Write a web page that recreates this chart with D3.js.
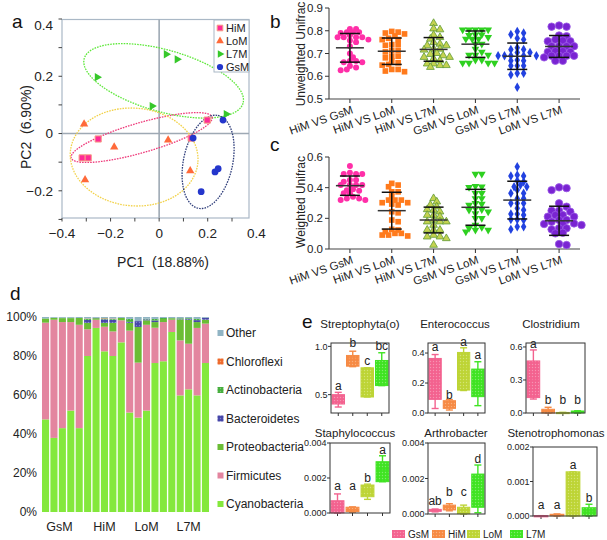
<!DOCTYPE html>
<html><head><meta charset="utf-8">
<script src="https://cdn.jsdelivr.net/npm/d3@7"></script>
<style>body{margin:0;background:#fff}svg{display:block;font-family:"Liberation Sans",Arial,Helvetica,sans-serif}</style>
</head><body>
<svg id="chart" width="607" height="540"></svg>
<script>
// ---------------- DATA ----------------
// Panel a: PCoA
const pcaGroups = ["HiM","LoM","L7M","GsM"];
const himPC1 = [-0.251,-0.317,-0.292,0.132,0.198];
const himPC2 = [-0.019,-0.085,-0.085,-0.016,0.047];
const lomPC1 = [-0.309,-0.185,0.037,-0.305,0.128];
const lomPC2 = [0.033,-0.047,-0.023,-0.162,-0.130];
const l7mPC1 = [-0.255,0.029,0.074,-0.029,0.276];
const l7mPC2 = [0.197,0.277,0.259,0.096,0.068];
const gsmPC1 = [0.140,0.263,0.230,0.243,0.173];
const gsmPC2 = [-0.016,0.047,-0.134,-0.123,-0.203];
// ellipses: centre, two conjugate half-axes (data units)
const ellL7M = [0.0185,0.184, 0.327,-0.078, -0.0346,-0.104];
const ellHiM = [-0.072,-0.014, 0.290,0.0713, 0.0173,-0.050];
const ellLoM = [-0.103,-0.082, 0.2625,-0.0195, -0.0177,-0.170];
const ellGsM = [0.2016,-0.099, 0.041,0.162, 0.099,-0.018];
const pcaXTicks = [-0.4,-0.2,0,0.2,0.4];
const pcaYTicks = [-0.2,0,0.2,0.4];

// Panels b, c: pairwise distances
const pairs = ["HiM VS GsM","HiM VS LoM","HiM VS L7M","GsM VS LoM","GsM VS L7M","LoM VS L7M"];
const bHiGs=[0.808,0.808,0.79,0.794,0.794,0.794,0.771,0.771,0.771,0.771,0.757,0.761,0.732,0.684,0.667,0.662,0.667,0.662,0.645,0.638,0.63,0.626,0.70,0.75,0.78];
const bHiLo=[0.797,0.794,0.79,0.786,0.777,0.767,0.761,0.761,0.739,0.736,0.739,0.713,0.713,0.707,0.688,0.681,0.688,0.667,0.659,0.652,0.649,0.630,0.623,0.620,0.630];
const bHiL7=[0.833,0.809,0.805,0.781,0.771,0.764,0.749,0.742,0.735,0.735,0.72,0.716,0.72,0.701,0.697,0.691,0.684,0.677,0.669,0.684,0.655,0.648,0.648,0.64,0.655];
const bGsLo=[0.804,0.804,0.804,0.804,0.804,0.783,0.783,0.780,0.764,0.764,0.764,0.771,0.742,0.742,0.72,0.707,0.693,0.693,0.693,0.658,0.658,0.658,0.658,0.671,0.671];
const bGsL7=[0.797,0.79,0.783,0.767,0.761,0.725,0.718,0.718,0.704,0.704,0.69,0.69,0.69,0.69,0.69,0.671,0.668,0.668,0.646,0.646,0.646,0.613,0.607,0.613,0.552];
const bLoL7=[0.823,0.818,0.818,0.779,0.776,0.754,0.757,0.754,0.761,0.732,0.732,0.732,0.732,0.710,0.707,0.710,0.707,0.690,0.690,0.690,0.690,0.668,0.668,0.683];
const bMean=[0.725,0.71,0.718,0.741,0.688,0.731];
const bSD=[0.063,0.058,0.052,0.058,0.058,0.048];
const bTicks=[0.5,0.6,0.7,0.8,0.9];
const cHiGs=[0.541,0.497,0.489,0.489,0.489,0.45,0.45,0.439,0.417,0.417,0.417,0.417,0.389,0.380,0.384,0.363,0.363,0.330,0.319,0.330,0.319,0.341];
const cHiLo=[0.428,0.417,0.406,0.373,0.373,0.341,0.319,0.319,0.319,0.302,0.302,0.287,0.293,0.243,0.236,0.189,0.178,0.124,0.113,0.091,0.085,0.091,0.102,0.102,0.128];
const cHiL7=[0.308,0.287,0.330,0.276,0.254,0.243,0.258,0.221,0.211,0.221,0.189,0.178,0.178,0.178,0.124,0.124,0.124,0.080,0.091,0.080,0.026,0.069,0.156];
const cGsLo=[0.489,0.489,0.410,0.402,0.406,0.363,0.363,0.330,0.330,0.298,0.293,0.287,0.265,0.258,0.254,0.232,0.243,0.200,0.200,0.156,0.124,0.113,0.124,0.141,0.135];
const cGsL7=[0.536,0.482,0.476,0.476,0.445,0.439,0.417,0.406,0.406,0.384,0.363,0.363,0.330,0.330,0.298,0.298,0.298,0.265,0.254,0.228,0.228,0.221,0.193,0.189,0.193,0.145,0.128,0.145];
const cLoL7=[0.402,0.384,0.397,0.250,0.250,0.243,0.221,0.211,0.211,0.221,0.189,0.189,0.178,0.167,0.163,0.156,0.163,0.135,0.128,0.135,0.106,0.102,0.026,0.032,0.276,0.298];
const cMean=[0.413,0.25,0.189,0.272,0.319,0.184];
const cSD=[0.063,0.12,0.084,0.117,0.123,0.095];
const cTicks=[0.0,0.2,0.4,0.6];

// Panel d: relative abundance (%) of 20 samples
const dGroups=["GsM","HiM","LoM","L7M"];
const cyano =[47.5,38,43,52,43,80,94.4,82.4,80,87,51,48.4,52,76.4,77.3,92.3,59.8,62.9,59.8,76.4];
const firmi =[49.6,60.6,54.4,45.4,53,13.7,4.2,12.6,12.6,11.3,42,28.2,44,18.1,20.1,6.3,28.2,23.4,34.6,20.2];
const proteo=[2.0,1.0,2.0,2.0,3.5,3.3,0.8,2.0,4.4,1.2,4.0,18.3,2.3,2.9,1.6,0.8,10.8,12.3,3.0,2.0];
const bacter=[0,0,0,0,0,1.5,0.2,1.8,1.6,0,0.5,3.0,0.5,0.8,0,0,0.3,0.4,1.0,1.0];
const actino=[0.2,0,0.2,0.2,0,0.5,0,0.4,0.4,0,1.5,0,0.3,0.8,0.5,0,0.3,0.4,0.6,0];
const chloro=[0,0,0,0,0,0.2,0,0.2,0.2,0,0,0,0,0,0,0,0,0,0,0];
const other =[0.7,0.4,0.4,0.4,0.5,0.8,0.4,0.6,0.8,0.5,1.0,2.1,0.9,1.0,0.5,0.6,0.6,0.6,1.0,0.4];
const phyla=["Cyanobacteria","Firmicutes","Proteobacteria","Bacteroidetes","Actinobacteria","Chloroflexi","Other"];
const dTicks=[0,20,40,60,80,100];

// Panel e: box plots [min,q1,median,q3,max] for GsM,HiM,LoM,L7M
const eGroups=["GsM","HiM","LoM","L7M"];
const eTitles=["Streptophyta(o)","Enterococcus","Clostridium","Staphylococcus","Arthrobacter","Stenotrophomonas"];
const strepto=[[0.372,0.403,0.45,0.50,0.524],[0.79,0.795,0.87,0.906,0.95],[0.476,0.476,0.60,0.778,0.778],[0.594,0.594,0.70,0.854,0.934]];
const entero =[[0.03,0.091,0.2,0.364,0.39],[0.02,0.031,0.05,0.082,0.09],[0.15,0.153,0.3,0.404,0.435],[0.049,0.109,0.2,0.293,0.342]];
const clostr =[[0.127,0.14,0.3,0.473,0.573],[0.0,0.0,0.02,0.034,0.052],[0,0,0.002,0.005,0.006],[0,0.002,0.01,0.018,0.02]];
const staph  =[[0,0.00001,0.0003,0.0007,0.00109],[0.00005,0.00008,0.0002,0.00033,0.00035],[0.00078,0.00093,0.0013,0.0016,0.00165],[0.00179,0.00179,0.0025,0.00293,0.00327]];
const arthro =[[0.00012,0.00015,0.0002,0.00026,0.00028],[0.00018,0.00023,0.0004,0.0005,0.00058],[0,0.00002,0.0002,0.00038,0.0005],[0.00007,0.00038,0.0012,0.00225,0.00276]];
const steno  =[[0,0,0.000005,0.00001,0.00001],[0,0.000005,0.00003,0.00005,0.00006],[0,0,0.0008,0.00128,0.00128],[0,0.00001,0.00012,0.00024,0.00034]];
const eLetters=[["a","b","c","bc"],["a","b","a","a"],["a","b","b","b"],["a","a","b","a"],["ab","b","c","d"],["a","a","a","b"]];
const eLetterY=[[0.552,0.99,0.81,0.958],[0.413,0.093,0.447,0.36],[0.59,0.082,0.082,0.082],[0.00131,0.00131,0.00177,0.00337],[0.00052,0.00103,0.00103,0.00287],[0.0002,0.0002,0.00136,0.00041]];
const eDomains=[[0.31,1.035],[0,0.467],[0,0.636],[0,0.004],[0,0.004],[0,0.002]];
const eTicks=[[0.5,1.0],[0,0.2,0.4],[0,0.3,0.6],[0,0.002,0.004],[0,0.002,0.004],[0,0.001,0.002]];
const eFormats=[".1f",".1f",".1f",".3f",".3f",".3f"];

// ---------------- DRAW ----------------
const svg=d3.select("#chart");
const defs=svg.append("defs");
function dotPattern(id,color,dot){
  const p=defs.append("pattern").attr("id",id).attr("width",3).attr("height",3).attr("patternUnits","userSpaceOnUse");
  p.append("rect").attr("width",3).attr("height",3).attr("fill",color);
  p.append("circle").attr("cx",1.5).attr("cy",1.5).attr("r",0.7).attr("fill",dot).attr("opacity",0.7);
}
const TXT="#222";
function panelLabel(t,x,y){svg.append("text").attr("x",x).attr("y",y).attr("font-size",19).attr("fill","#111").text(t);}

// ===== Panel a =====
{
const x=d3.scaleLinear().domain([-0.4,0.37]).range([62,249]);
const y=d3.scaleLinear().domain([-0.295,0.4]).range([218,19]);
const g=svg.append("g");
g.append("rect").attr("x",62).attr("y",19.5).attr("width",187).attr("height",198.5).attr("fill","none").attr("stroke","#aab8c6").attr("stroke-width",1.2);
g.append("line").attr("x1",x(0)).attr("x2",x(0)).attr("y1",19.5).attr("y2",218).attr("stroke","#9ea9b4").attr("stroke-width",1.6);
g.append("line").attr("x1",62).attr("x2",249).attr("y1",y(0)).attr("y2",y(0)).attr("stroke","#9ea9b4").attr("stroke-width",1.6);
d3.range(-0.3,0.41,0.1).forEach(v=>{g.append("line").attr("x1",58.5).attr("x2",62).attr("y1",y(v)).attr("y2",y(v)).attr("stroke","#444");});
d3.range(-0.4,0.31,0.1).forEach(v=>{g.append("line").attr("x1",x(v)).attr("x2",x(v)).attr("y1",218).attr("y2",221.5).attr("stroke","#444");});
pcaYTicks.forEach(v=>{g.append("text").attr("x",53).attr("y",Math.max(y(v),25)).attr("dy","0.35em").attr("text-anchor","end").attr("font-size",13.5).attr("fill",TXT).text(v===0?"0":d3.format(".1f")(v));});
pcaXTicks.forEach(v=>{g.append("text").attr("x",x(v)).attr("y",238).attr("text-anchor","middle").attr("font-size",13.5).attr("fill",TXT).text(v===0?"0":d3.format(".1f")(v));});
g.append("text").attr("x",163).attr("y",267).attr("text-anchor","middle").attr("font-size",14).attr("fill",TXT).attr("xml:space","preserve").text("PC1  (18.88%)");
g.append("text").attr("transform","translate(31,127) rotate(-90)").attr("text-anchor","middle").attr("font-size",14).attr("fill",TXT).attr("xml:space","preserve").text("PC2  (6.90%)");
const ell=[[ellL7M,"#5ee83a"],[ellHiM,"#ee3a7a"],[ellLoM,"#f2d24a"],[ellGsM,"#2e3d7a"]];
const line=d3.line().x(d=>d[0]).y(d=>d[1]).curve(d3.curveLinearClosed);
ell.forEach(([e,c])=>{
  const pts=d3.range(0,2*Math.PI,Math.PI/60).map(t=>[x(e[0]+Math.cos(t)*e[2]+Math.sin(t)*e[4]),y(e[1]+Math.cos(t)*e[3]+Math.sin(t)*e[5])]);
  g.append("path").attr("d",line(pts)).attr("fill","none").attr("stroke",c).attr("stroke-width",1.3).attr("stroke-dasharray","1.6,1.1");
});
const markers={
  HiM:{t:d3.symbolSquare,s:38,f:"#ff2a96",st:"#f6a085",r:0},
  LoM:{t:d3.symbolTriangle,s:30,f:"#ff6a3a",st:"none",r:0},
  L7M:{t:d3.symbolTriangle,s:30,f:"#36c82a",st:"none",r:90},
  GsM:{t:d3.symbolCircle,s:36,f:"#2436cc",st:"none",r:0}
};
const pcs={HiM:[himPC1,himPC2],LoM:[lomPC1,lomPC2],L7M:[l7mPC1,l7mPC2],GsM:[gsmPC1,gsmPC2]};
["LoM","L7M","HiM","GsM"].forEach(k=>{
  const m=markers[k];
  pcs[k][0].forEach((v,i)=>{
    g.append("path").attr("d",d3.symbol().type(m.t).size(m.s)()).attr("transform",`translate(${x(v)},${y(pcs[k][1][i])}) rotate(${m.r})`).attr("fill",m.f).attr("stroke",m.st).attr("stroke-width",1);
  });
});
g.append("rect").attr("x",214).attr("y",20).attr("width",35).attr("height",52).attr("fill","#fff").attr("stroke","#aab8c6");
pcaGroups.forEach((k,i)=>{
  const m=markers[k], yy=28+i*13;
  g.append("path").attr("d",d3.symbol().type(m.t).size(m.s*0.85)()).attr("transform",`translate(220,${yy}) rotate(${m.r})`).attr("fill",m.f).attr("stroke",m.st);
  g.append("text").attr("x",226).attr("y",yy).attr("dy","0.35em").attr("font-size",11).attr("fill",TXT).text(k);
});
panelLabel("a",12,28);
}

// ===== Panels b & c =====
const scatStyles=[
  {t:d3.symbolCircle,s:28,f:"#ff2fa8",st:"none",r:0,d:5.6},
  {t:d3.symbolSquare,s:32,f:"#ff7a1c",st:"none",r:0,d:5.8},
  {t:d3.symbolTriangle,s:26,f:"#c4d250",st:"#5f9a36",r:0,d:5.8},
  {t:d3.symbolTriangle,s:26,f:"#2ed020",st:"none",r:180,d:5.8},
  {t:d3.symbolDiamond,s:26,f:"#2242e0",st:"none",r:0,d:5.8},
  {t:d3.symbolCircle,s:44,f:"#7a24d2",st:"#9a5ae6",r:0,d:6.8}
];
function swarm(vals,yS,d){
  const pts=vals.map(v=>({v,py:yS(v)})).sort((a,b)=>a.py-b.py);
  const placed=[];
  pts.forEach(p=>{
    for(let k=0;k<40;k++){
      const off=(k===0?0:(k%2?1:-1)*Math.ceil(k/2))*d*0.55;
      if(placed.every(q=>(q.dx-off)**2+(q.py-p.py)**2>=d*d*0.62)){p.dx=off;placed.push(p);break;}
    }
  });
  return placed;
}
function scatterPanel(series,means,sds,ticks,domain,yr,ylab,ylabY,fmt){
  const x=d3.scaleBand().domain(pairs).range([329,580]);
  const y=d3.scaleLinear().domain(domain).range(yr);
  const g=svg.append("g");
  g.append("line").attr("x1",329).attr("x2",329).attr("y1",yr[1]).attr("y2",yr[0]).attr("stroke","#333");
  g.append("line").attr("x1",329).attr("x2",580).attr("y1",yr[0]).attr("y2",yr[0]).attr("stroke","#444").attr("stroke-width",1.2);
  ticks.forEach(v=>{
    g.append("line").attr("x1",325).attr("x2",329).attr("y1",y(v)).attr("y2",y(v)).attr("stroke","#333");
    g.append("text").attr("x",323).attr("y",y(v)).attr("dy","0.35em").attr("text-anchor","end").attr("font-size",11.5).attr("fill",TXT).text(d3.format(fmt)(v));
  });
  pairs.forEach((p,i)=>{
    const cx=x(p)+x.bandwidth()/2;
    g.append("line").attr("x1",cx).attr("x2",cx).attr("y1",yr[0]).attr("y2",yr[0]+4).attr("stroke","#333");
    g.append("text").attr("transform",`translate(${cx+4},${yr[0]+14}) rotate(-19)`).attr("text-anchor","end").attr("font-size",11.5).attr("fill",TXT).text(p);
    const s=scatStyles[i];
    swarm(series[i],y,s.d).forEach(q=>{
      g.append("path").attr("d",d3.symbol().type(s.t).size(s.s)()).attr("transform",`translate(${cx+q.dx},${q.py}) rotate(${s.r})`).attr("fill",s.f).attr("stroke",s.st).attr("stroke-width",0.8);
    });
    const m=means[i], sd=sds[i];
    g.append("line").attr("x1",cx).attr("x2",cx).attr("y1",y(m-sd)).attr("y2",y(m+sd)).attr("stroke","#111").attr("stroke-width",1.5);
    [m-sd,m+sd].forEach(v=>g.append("line").attr("x1",cx-10).attr("x2",cx+10).attr("y1",y(v)).attr("y2",y(v)).attr("stroke","#111").attr("stroke-width",1.5));
    g.append("line").attr("x1",cx-14).attr("x2",cx+14).attr("y1",y(m)).attr("y2",y(m)).attr("stroke","#333").attr("stroke-width",1.5);
  });
  g.append("text").attr("transform",`translate(305,${ylabY}) rotate(-90)`).attr("text-anchor","middle").attr("font-size",12).attr("fill",TXT).text(ylab);
}
scatterPanel([bHiGs,bHiLo,bHiL7,bGsLo,bGsL7,bLoL7],bMean,bSD,bTicks,[0.5,0.9],[99,8],"Unweighted Unifrac",54,".1f");
scatterPanel([cHiGs,cHiLo,cHiL7,cGsLo,cGsL7,cLoL7],cMean,cSD,cTicks,[0,0.6],[249,157],"Weighted Unifrac",202,".1f");
panelLabel("b",270,28);
panelLabel("c",270,151);

// ===== Panel d =====
{
const phylaColors={Cyanobacteria:"#84e83c",Firmicutes:"#e3859f",Proteobacteria:"#6bbd35",Bacteroidetes:"url(#pBac)",Actinobacteria:"url(#pAct)",Chloroflexi:"url(#pChl)",Other:"#90b4c4"};
dotPattern("pBac","#4646a8","#9a9ae0");
dotPattern("pAct","#45ad3c","#9ad890");
dotPattern("pChl","#ee6a2c","#f8b890");
const rows=cyano.map((v,i)=>({i,Cyanobacteria:v,Firmicutes:firmi[i],Proteobacteria:proteo[i],Bacteroidetes:bacter[i],Actinobacteria:actino[i],Chloroflexi:chloro[i],Other:other[i]}));
const stack=d3.stack().keys(phyla)(rows);
const x=d3.scaleBand().domain(d3.range(20)).range([42,209]).paddingInner(0.16);
const y=d3.scaleLinear().domain([0,100]).range([512,317]);
const g=svg.append("g");
stack.forEach(layer=>{
  g.selectAll(null).data(layer).join("rect").attr("x",d=>x(d.data.i)).attr("width",x.bandwidth())
   .attr("y",d=>y(d[1])).attr("height",d=>Math.max(0,y(d[0])-y(d[1]))).attr("fill",phylaColors[layer.key]);
});
dTicks.forEach(v=>g.append("text").attr("x",37).attr("y",y(v)).attr("dy","0.35em").attr("text-anchor","end").attr("font-size",12).attr("fill",TXT).text(v+"%"));
dGroups.forEach((k,j)=>{
  const cx=(x(j*5)+x(j*5+4)+x.bandwidth())/2;
  g.append("text").attr("x",cx-(j===0?3:0)).attr("y",531).attr("text-anchor","middle").attr("font-size",12.5).attr("fill",TXT).text(k);
});
phyla.slice().reverse().forEach((k,i)=>{
  const yy=333+i*28.5;
  g.append("rect").attr("x",217.5).attr("y",yy-3).attr("width",6).attr("height",6).attr("fill",phylaColors[k]);
  g.append("text").attr("x",226).attr("y",yy).attr("dy","0.35em").attr("font-size",12).attr("fill",TXT).text(k);
});
panelLabel("d",10,300);
}

// ===== Panel e =====
{
const eCol={GsM:"#f3628f",HiM:"#f68a44",LoM:"#bdd435",L7M:"#3fe322"};
const eDot={GsM:"#f9a8c2",HiM:"#fbc196",LoM:"#dfeb90",L7M:"#9af08a"};
eGroups.forEach(k=>dotPattern("pe"+k,eCol[k],eDot[k]));
const layout=[
  {x0:331,x1:389,y0:343,y1:413,tx:360,ty:328},
  {x0:428,x1:485,y0:343,y1:413,tx:455,ty:328},
  {x0:526,x1:585,y0:343,y1:413,tx:551,ty:328},
  {x0:330,x1:390,y0:443,y1:513,tx:355,ty:437},
  {x0:428,x1:485,y0:443,y1:514,tx:456,ty:437},
  {x0:533,x1:597,y0:447,y1:516,tx:556,ty:437}
];
const eData=[strepto,entero,clostr,staph,arthro,steno];
eData.forEach((data,pi)=>{
  const L=layout[pi];
  const x=d3.scaleBand().domain(eGroups).range([L.x0,L.x1]).paddingInner(0.14).paddingOuter(0.07);
  const y=d3.scaleLinear().domain(eDomains[pi]).range([L.y1,L.y0]);
  const g=svg.append("g");
  g.append("text").attr("x",L.tx).attr("y",L.ty).attr("text-anchor","middle").attr("font-size",11.5).attr("fill",TXT).text(eTitles[pi]);
  eTicks[pi].forEach(v=>{
    g.append("line").attr("x1",L.x0-3).attr("x2",L.x0).attr("y1",y(v)).attr("y2",y(v)).attr("stroke","#333");
    g.append("text").attr("x",L.x0-3.5).attr("y",y(v)).attr("dy","0.35em").attr("text-anchor","end").attr("font-size",9).attr("fill",TXT).text(d3.format(eFormats[pi])(v));
  });
  eGroups.forEach((k,gi)=>{
    const [mn,q1,md,q3,mx]=data[gi];
    const bx=x(k), bw=x.bandwidth(), cx=bx+bw/2;
    g.append("line").attr("x1",cx).attr("x2",cx).attr("y1",L.y1).attr("y2",L.y1+3).attr("stroke","#333");
    g.append("line").attr("x1",cx).attr("x2",cx).attr("y1",y(mn)).attr("y2",y(mx)).attr("stroke",eCol[k]).attr("stroke-width",1.4);
    [mn,mx].forEach(v=>g.append("line").attr("x1",cx-3.5).attr("x2",cx+3.5).attr("y1",y(v)).attr("y2",y(v)).attr("stroke",eCol[k]).attr("stroke-width",1.4));
    g.append("rect").attr("x",bx).attr("width",bw).attr("y",y(q3)).attr("height",Math.max(1.2,y(q1)-y(q3))).attr("fill","url(#pe"+k+")").attr("stroke",eCol[k]).attr("stroke-width",1);
    g.append("line").attr("x1",bx).attr("x2",bx+bw).attr("y1",y(md)).attr("y2",y(md)).attr("stroke",eCol[k]).attr("stroke-width",1);
    g.append("text").attr("x",cx).attr("y",y(eLetterY[pi][gi])).attr("text-anchor","middle").attr("font-size",12).attr("fill",TXT).text(eLetters[pi][gi]);
  });
  g.append("rect").attr("x",L.x0).attr("y",L.y0).attr("width",L.x1-L.x0).attr("height",L.y1-L.y0).attr("fill","none").attr("stroke","#333").attr("stroke-width",1);
});
const legX=[392,432,467,510];
eGroups.forEach((k,i)=>{
  svg.append("rect").attr("x",legX[i]).attr("y",530).attr("width",13).attr("height",8).attr("fill","url(#pe"+k+")");
  svg.append("text").attr("x",legX[i]+16).attr("y",534).attr("dy","0.35em").attr("font-size",10).attr("fill",TXT).text(k);
});
panelLabel("e",302,328);
}
</script>
</body></html>
